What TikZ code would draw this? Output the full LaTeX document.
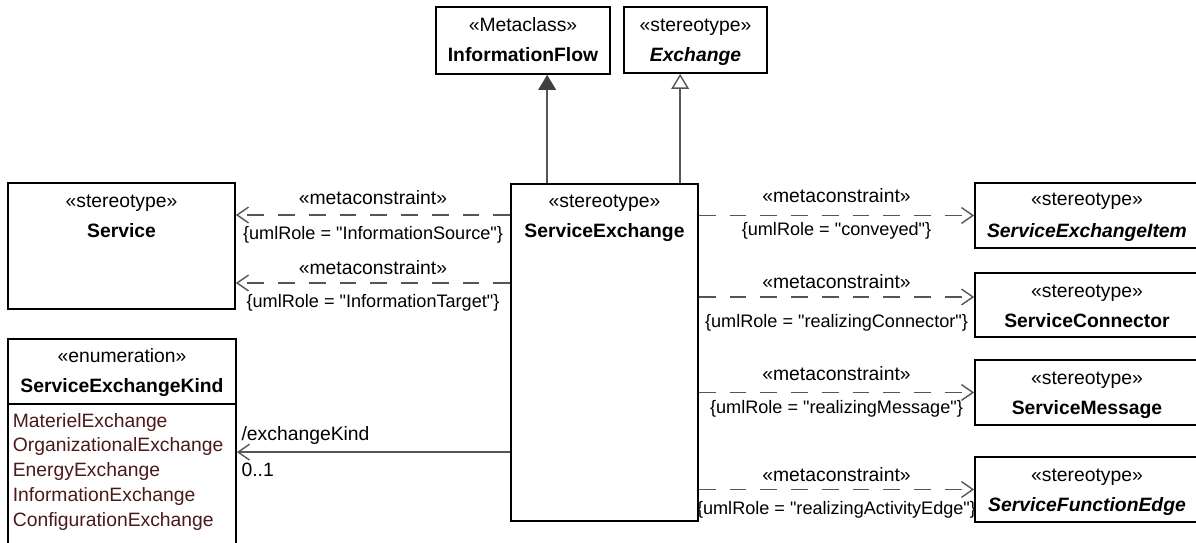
\documentclass[tikz,border=0pt]{standalone}
\usepackage{fontspec}
\setmainfont{Liberation Sans}
\usetikzlibrary{arrows.meta, positioning, calc, fit}

\definecolor{linegray}{RGB}{85,85,85}
\definecolor{tipgray}{RGB}{64,64,64}
\definecolor{literalred}{RGB}{75,25,25}

\begin{document}
\begin{tikzpicture}[
    % Global options: pixel grid (1 unit = 0.02cm, y downwards), font
    x=0.02cm, y=-0.02cm,
    line width=0.8pt,
    font=\fontsize{11}{13}\selectfont,
    classbox/.style={draw, line width=1pt, inner sep=0pt},
    stereo/.style={anchor=base, inner sep=0pt},
    cname/.style={anchor=base, inner sep=0pt, font=\fontsize{11}{13}\selectfont\bfseries},
    aname/.style={anchor=base, inner sep=0pt, font=\fontsize{11}{13}\selectfont\bfseries\itshape},
    literal/.style={anchor=base west, inner sep=0pt, text=literalred},
    metadep/.style={draw=linegray, dash pattern=on 9.5pt off 8pt,
      -{Straight Barb[length=6.5pt, width=9pt]}},
    assoc/.style={draw=linegray, -{Straight Barb[length=6.5pt, width=9pt]}},
    genfilled/.style={draw=linegray, -{Triangle[length=8.5pt, width=10pt, fill=tipgray, color=tipgray]}},
    genopen/.style={draw=linegray, -{Triangle[open, length=8.5pt, width=10pt, fill=white]}},
    cnlabel/.style={midway, anchor=base, inner sep=0pt, yshift=#1},
    constraint/.style={font=\fontsize{10.3}{12}\selectfont},
  ]
    \useasboundingbox (0,0) rectangle (1196,543);
    \clip (0,0) rectangle (1196,543);

    % --- Top: metaclass and abstract stereotype ---
    \node[classbox, fit={(436,7) (610,74)}] (iflow) {};
    \node[stereo] (iflow-st) at ($(iflow.north)+(0,25)$) {«Metaclass»};
    \node[cname] (iflow-nm) at ($(iflow.north)+(0,55)$) {InformationFlow};

    \node[classbox, fit={(624,7) (767,73)}] (exch) {};
    \node[stereo] (exch-st) at ($(exch.north)+(0,25)$) {«stereotype»};
    \node[aname] (exch-nm) at ($(exch.north)+(0,55)$) {Exchange};

    % --- Centre: ServiceExchange ---
    \node[classbox, fit={(511,184) (698,521)}] (svx) {};
    \node[stereo] (svx-st) at ($(svx.north)+(0,24)$) {«stereotype»};
    \node[cname] (svx-nm) at ($(svx.north)+(0,54)$) {ServiceExchange};

    % --- Left: Service and the enumeration ---
    \node[classbox, fit={(8,183) (235,309)}] (svc) {};
    \node[stereo] (svc-st) at ($(svc.north)+(0,25)$) {«stereotype»};
    \node[cname] (svc-nm) at ($(svc.north)+(0,55)$) {Service};

    \node[classbox, fit={(8,339) (236,560)}] (sek) {};
    \node[stereo] (sek-st) at ($(sek.north)+(0,24)$) {«enumeration»};
    \node[cname] (sek-nm) at ($(sek.north)+(0,54)$) {ServiceExchangeKind};
    \draw[line width=1pt] ($(sek.north west)+(0,66)$) -- ($(sek.north east)+(0,66)$);
    \foreach \lit [count=\i from 0] in {MaterielExchange, OrganizationalExchange,
        EnergyExchange, InformationExchange, ConfigurationExchange}
      \node[literal] (lit\i) at ($(sek.north west)+(5,89+24.8*\i)$) {\lit};

    % --- Right: the four stereotypes (cut by the right edge) ---
    \node[classbox, fit={(975,183) (1199,248)}] (sxi) {};
    \node[stereo] (sxi-st) at ($(sxi.north)+(0,23)$) {«stereotype»};
    \node[aname] (sxi-nm) at ($(sxi.north)+(0,55)$) {ServiceExchangeItem};

    \node[classbox, fit={(975,273) (1199,337)}] (scn) {};
    \node[stereo] (scn-st) at ($(scn.north)+(0,25)$) {«stereotype»};
    \node[cname] (scn-nm) at ($(scn.north)+(0,55)$) {ServiceConnector};

    \node[classbox, fit={(975,360) (1199,425)}] (smg) {};
    \node[stereo] (smg-st) at ($(smg.north)+(0,25)$) {«stereotype»};
    \node[cname] (smg-nm) at ($(smg.north)+(0,55)$) {ServiceMessage};

    \node[classbox, fit={(975,457) (1199,522)}] (sfe) {};
    \node[stereo] (sfe-st) at ($(sfe.north)+(0,25)$) {«stereotype»};
    \node[aname] (sfe-nm) at ($(sfe.north)+(0,55)$) {ServiceFunctionEdge};

    % --- Generalizations ---
    \draw[genfilled] ($(svx.north west)+(37,0)$) coordinate (g1) -- (g1 |- iflow.south);
    \draw[genopen] ($(svx.north west)+(170,0)$) coordinate (g2) -- (g2 |- exch.south);

    % --- Metaconstraints to the left ---
    \coordinate (src) at ($(svc.east)+(0,-31)$);
    \coordinate (tgt) at ($(svc.east)+(0,37)$);
    \draw[metadep] (svx.west |- src) -- (src)
      node[cnlabel=5.7pt] (src-up) {«metaconstraint»}
      node[cnlabel=-14.2pt, constraint] (src-dn) {\{umlRole = \textquotedbl InformationSource\textquotedbl\}};
    \draw[metadep] (svx.west |- tgt) -- (tgt)
      node[cnlabel=4.6pt] (tgt-up) {«metaconstraint»}
      node[cnlabel=-14.2pt, constraint] (tgt-dn) {\{umlRole = \textquotedbl InformationTarget\textquotedbl\}};

    % --- Metaconstraints to the right ---
    \draw[metadep] (svx.east |- sxi.west) -- (sxi.west)
      node[cnlabel=7.4pt] (sxi-up) {«metaconstraint»}
      node[cnlabel=-11.4pt, constraint] (sxi-dn) {\{umlRole = \textquotedbl conveyed\textquotedbl\}};
    \coordinate (scn-in) at ($(scn.west)+(0,-8)$);
    \draw[metadep] (svx.east |- scn-in) -- (scn-in)
      node[cnlabel=4.6pt] (scn-up) {«metaconstraint»}
      node[cnlabel=-17.6pt, constraint] (scn-dn) {\{umlRole = \textquotedbl realizingConnector\textquotedbl\}};
    \draw[metadep] (svx.east |- smg.west) -- (smg.west)
      node[cnlabel=6.8pt] (smg-up) {«metaconstraint»}
      node[cnlabel=-12pt, constraint] (smg-dn) {\{umlRole = \textquotedbl realizingMessage\textquotedbl\}};
    \draw[metadep] (svx.east |- sfe.west) -- (sfe.west)
      node[cnlabel=4.6pt] (sfe-up) {«metaconstraint»}
      node[cnlabel=-14.2pt, constraint] (sfe-dn) {\{umlRole = \textquotedbl realizingActivityEdge\textquotedbl\}};

    % --- Association to the enumeration ---
    \coordinate (ekind) at ($(sek.north east)+(0,114)$);
    \draw[assoc] (svx.west |- ekind) -- (ekind)
      node[pos=1, anchor=base west, inner sep=0pt, xshift=2.3pt, yshift=6.8pt] (ek-role) {/exchangeKind}
      node[pos=1, anchor=base west, inner sep=0pt, xshift=2.3pt, yshift=-13.7pt] (ek-mult) {0..1};
  \end{tikzpicture}
\end{document}
